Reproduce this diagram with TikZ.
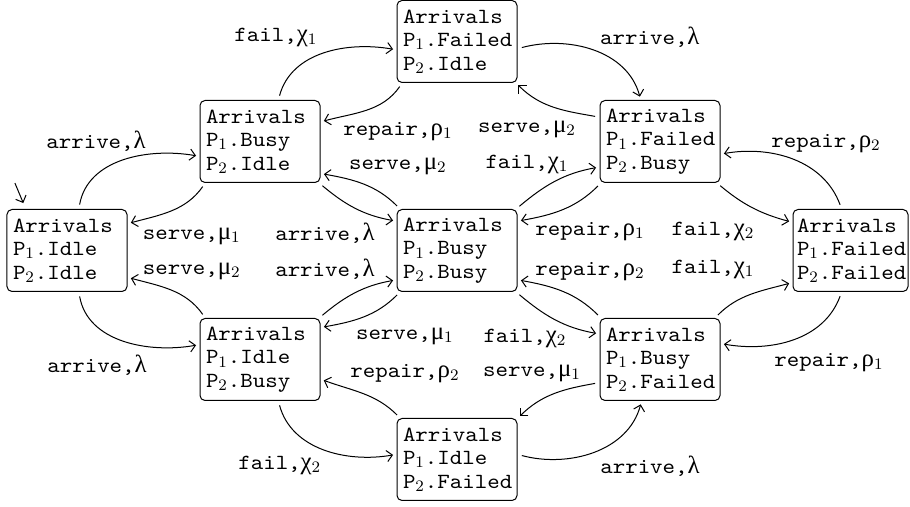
\documentclass[tikz,border=0pt]{standalone}
\usepackage{fontspec}
\setmonofont[FakeStretch=1.1]{Latin Modern Mono}
\newfontfamily\greekfont[Scale=1.15]{Liberation Serif}
\usetikzlibrary{arrows.meta, positioning}
\newcommand{\gk}[1]{{\greekfont #1}}

\begin{document}
\begin{tikzpicture}[
		state/.style={draw, rounded corners=2.5pt, line width=0.5pt, outer sep=0pt, inner xsep=3pt, inner ysep=2pt, text width=54pt, minimum height=41pt, align=left, font=\ttfamily\fontsize{10.8pt}{11.75pt}\selectfont},
		lbl/.style={inner sep=1pt, font=\ttfamily\fontsize{10.8pt}{11.75pt}\selectfont},
		arrow/.style={-{Straight Barb[length=2.8pt,width=5.6pt]}, line width=0.5pt, shorten >=2pt, shorten <=2.5pt}
	]

		% States
		\node[state] (ii) {Arrivals\\P$_1$.Idle\\P$_2$.Idle};
		\node[state, above right=13.5pt and 36.5pt of ii] (bi) {Arrivals\\P$_1$.Busy\\P$_2$.Idle};
		\node[state, below right=13.5pt and 36.5pt of ii] (ib) {Arrivals\\P$_1$.Idle\\P$_2$.Busy};
		\node[state, below right=13.5pt and 38.5pt of bi] (bb) {Arrivals\\P$_1$.Busy\\P$_2$.Busy};
		\node[state, above right=9pt and 38.5pt of bi] (fi) {Arrivals\\P$_1$.Failed\\P$_2$.Idle};
		\node[state, below right=9pt and 38.5pt of ib] (if) {Arrivals\\P$_1$.Idle\\P$_2$.Failed};
		\node[state, above right=13.5pt and 41.5pt of bb] (fb) {Arrivals\\P$_1$.Failed\\P$_2$.Busy};
		\node[state, below right=13.5pt and 41.5pt of bb] (bf) {Arrivals\\P$_1$.Busy\\P$_2$.Failed};
		\node[state, text width=53.5pt, inner xsep=2pt, below right=13.5pt and 36.5pt of fb] (ff) {Arrivals\\P$_1$.Failed\\P$_2$.Failed};

		% Initial state
		\coordinate[above left=15.5pt and 6.5pt of ii.135] (init);
		\draw[arrow, shorten >=3.5pt] (init) -- (ii.135);

		% Outer transitions
		\draw[arrow] (ii.74) to[out=80, in=170] node[lbl, xshift=-13.8pt, yshift=9.5pt] {arrive,\gk{λ}} (bi.194);
		\draw[arrow] (bi.217) to[out=235, in=15] node[lbl, xshift=10.2pt, yshift=-13pt] {serve,\gk{μ}$_1$} (ii.24);
		\draw[arrow] (ib.143) to[out=125, in=-15] node[lbl, xshift=10.2pt, yshift=9.5pt] {serve,\gk{μ}$_2$} (ii.-24);
		\draw[arrow] (ii.-74) to[out=-80, in=190] node[lbl, xshift=-13.3pt, yshift=-12.5pt] {arrive,\gk{λ}} (ib.166);
		\draw[arrow] (bi.66) to[out=75, in=170] node[lbl, xshift=-24pt, yshift=8.2pt] {fail,\gk{χ}$_1$} (fi.188);
		\draw[arrow] (fi.217) to[out=235, in=15] node[lbl, xshift=15.7pt, yshift=-10.9pt] {repair,\gk{ρ}$_1$} (bi.18);
		\draw[arrow] (fi.-7) to[out=15, in=105] node[lbl, xshift=28.5pt, yshift=6.5pt] {arrive,\gk{λ}} (fb.115);
		\draw[arrow] (fb.158) to[out=170, in=-45] node[lbl, xshift=-13.5pt, yshift=-11.2pt] {serve,\gk{μ}$_2$} (fi.-35);
		\draw[arrow] (fb.-36) to[out=-40, in=165] node[lbl, xshift=-19.6pt, yshift=-12pt] {fail,\gk{χ}$_2$} (ff.154);
		\draw[arrow] (ff.102) to[out=110, in=10] node[lbl, xshift=16.3pt, yshift=8.4pt] {repair,\gk{ρ}$_2$} (fb.-12);
		\draw[arrow] (bf.37) to[out=45, in=195] node[lbl, xshift=-18.7pt, yshift=12.6pt] {fail,\gk{χ}$_1$} (ff.209);
		\draw[arrow] (ff.-102) to[out=-110, in=-10] node[lbl, xshift=17.8pt, yshift=-11.7pt] {repair,\gk{ρ}$_1$} (bf.15);
		\draw[arrow] (ib.-66) to[out=-75, in=190] node[lbl, xshift=-22pt, yshift=-8.2pt] {fail,\gk{χ}$_2$} (if.175);
		\draw[arrow] (if.144) to[out=135, in=-20] node[lbl, xshift=20.8pt, yshift=10.2pt] {repair,\gk{ρ}$_2$} (ib.-18);
		\draw[arrow] (if.5) to[out=-15, in=-105] node[lbl, xshift=28.3pt, yshift=-7.4pt] {arrive,\gk{λ}} (bf.-114);
		\draw[arrow] (bf.201) to[out=190, in=45] node[lbl, xshift=-11.4pt, yshift=10.1pt] {serve,\gk{μ}$_1$} (if.34);

		% Inner transitions
		\draw[arrow] (bi.-35) to[out=-40, in=170] node[lbl, xshift=-15pt, yshift=-12.8pt] {arrive,\gk{λ}} (bb.154);
		\draw[arrow] (bb.144) to[out=135, in=-10] node[lbl, xshift=17pt, yshift=9pt] {serve,\gk{μ}$_2$} (bi.-28);
		\draw[arrow] (ib.35) to[out=40, in=190] node[lbl, xshift=-15pt, yshift=11.8pt] {arrive,\gk{λ}} (bb.206);
		\draw[arrow] (bb.-144) to[out=-135, in=10] node[lbl, xshift=20.5pt, yshift=-10pt] {serve,\gk{μ}$_1$} (ib.28);
		\draw[arrow] (bb.35) to[out=40, in=190] node[lbl, xshift=-13.9pt, yshift=8.6pt] {fail,\gk{χ}$_1$} (fb.203);
		\draw[arrow] (fb.-145) to[out=-135, in=10] node[lbl, xshift=13.5pt, yshift=-11.2pt] {repair,\gk{ρ}$_1$} (bb.26);
		\draw[arrow] (bf.145) to[out=135, in=-10] node[lbl, xshift=13.5pt, yshift=10.2pt] {repair,\gk{ρ}$_2$} (bb.-26);
		\draw[arrow] (bb.-35) to[out=-40, in=170] node[lbl, xshift=-14.9pt, yshift=-9.6pt] {fail,\gk{χ}$_2$} (bf.157);

		% Margins
		\path (ii.west |- fi.north) ++(-3.5pt,0.25pt) coordinate (tl);
		\path (ff.east |- if.south) ++(1pt,-3.25pt) coordinate (br);
		\useasboundingbox (tl) rectangle (br);

	\end{tikzpicture}
\end{document}
